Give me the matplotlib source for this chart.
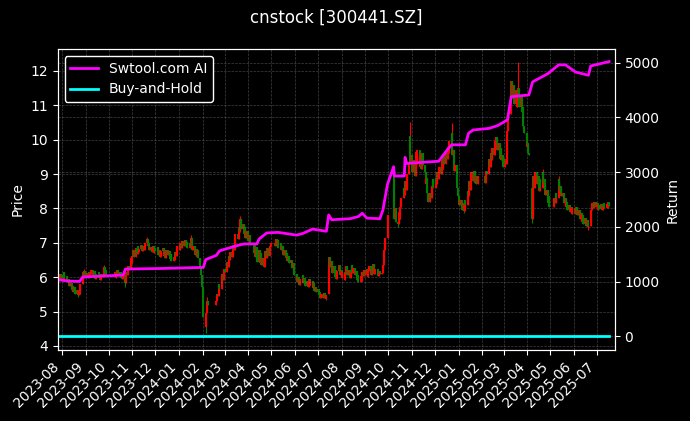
import numpy as np
import pandas as pd
import matplotlib
matplotlib.use("Agg")
import matplotlib.pyplot as plt
import matplotlib.dates as mdates

# ---------------- data ----------------
title = "cnstock [300441.SZ]"

holidays = pd.to_datetime([
    "2023-09-29", "2023-10-02", "2023-10-03", "2023-10-04", "2023-10-05", "2023-10-06",
    "2024-01-01", "2024-02-09", "2024-02-12", "2024-02-13", "2024-02-14", "2024-02-15",
    "2024-02-16", "2024-04-04", "2024-04-05", "2024-05-01", "2024-05-02", "2024-05-03",
    "2024-06-10", "2024-09-16", "2024-09-17", "2024-10-01", "2024-10-02", "2024-10-03",
    "2024-10-04", "2024-10-07", "2025-01-01", "2025-01-28", "2025-01-29", "2025-01-30",
    "2025-01-31", "2025-02-03", "2025-02-04", "2025-04-04", "2025-05-01", "2025-05-02",
    "2025-05-05", "2025-06-02",
])

# daily closes, one list per month (trading days in order)
c2023_07 = [5.92, 6.08, 5.95]
c2023_08 = [6.05, 5.92, 6.15, 5.98, 6.02, 5.85, 5.95, 5.75, 5.82, 5.62, 5.75, 5.58,
            5.70, 5.52, 5.62, 5.48, 5.60, 5.50, 5.80, 6.15, 5.98, 6.18, 6.02]
c2023_09 = [6.12, 5.98, 6.15, 6.00, 6.10, 6.20, 6.02, 6.18, 5.95, 6.08, 5.98, 6.15,
            6.00, 5.92, 6.08, 6.02, 6.30, 6.12, 6.22, 6.05]
c2023_10 = [6.15, 5.98, 6.12, 6.22, 6.05, 6.15, 5.98, 6.10, 5.95, 6.05, 5.82, 6.15,
            6.05, 6.32, 6.25, 6.55, 6.40]
c2023_11 = [6.62, 6.78, 6.60, 6.85, 6.68, 6.90, 6.72, 6.82, 6.95, 6.75, 6.92, 6.80,
            6.98, 7.12, 6.90, 6.98, 6.78, 6.88, 6.72, 6.90, 6.70, 6.85]
c2023_12 = [6.75, 6.88, 6.65, 6.80, 6.60, 6.75, 6.85, 6.62, 6.72, 6.55, 6.80, 6.65,
            6.75, 6.52, 6.68, 6.48, 6.60, 6.50, 6.72, 6.62, 6.90]
c2024_01 = [6.80, 7.00, 6.85, 7.05, 6.90, 7.08, 6.92, 7.02, 6.85, 7.00, 6.90, 7.15,
            6.80, 6.92, 6.65, 6.82, 6.60, 6.78, 6.55, 6.30, 6.05, 5.70]
c2024_02 = [5.35, 4.85, 4.55, 4.95, 5.30, 5.20, 5.30, 5.52, 5.45, 5.80, 5.65, 5.95,
            6.10, 5.92, 6.25]
c2024_03 = [6.15, 6.45, 6.30, 6.62, 6.50, 6.72, 6.60, 6.95, 6.78, 7.10, 7.25, 7.10,
            7.45, 7.30, 7.70, 7.40, 7.55, 7.25, 7.45, 7.15, 7.35]
c2024_04 = [7.05, 7.22, 6.95, 6.70, 6.95, 6.60, 6.88, 6.45, 6.78, 6.40, 6.70, 6.35,
            6.55, 6.30, 6.75, 6.55, 6.85, 6.62, 6.90, 7.00]
c2024_05 = [6.90, 7.12, 6.95, 7.08, 6.85, 6.98, 6.78, 6.92, 6.65, 6.80, 6.55, 6.70,
            6.48, 6.62, 6.40, 6.50, 6.28, 6.42, 6.20, 6.05]
c2024_06 = [6.08, 5.85, 6.00, 5.78, 5.95, 6.05, 5.82, 5.98, 5.75, 5.90, 5.72, 5.95,
            5.78, 5.88, 5.68, 5.82, 5.60, 5.72, 5.58]
c2024_07 = [5.65, 5.48, 5.58, 5.40, 5.52, 5.38, 5.55, 5.42, 5.36, 5.48, 6.25, 6.58,
            6.30, 6.48, 6.12, 6.32, 6.00, 6.22, 5.95, 6.18, 6.35, 6.05, 6.20]
c2024_08 = [5.98, 6.15, 5.92, 6.10, 6.32, 6.05, 6.22, 5.98, 6.15, 6.35, 6.12, 6.28,
            6.05, 6.18, 5.92, 6.05, 5.85, 6.02, 5.90, 6.15, 6.02, 6.22]
c2024_09 = [6.05, 6.25, 6.00, 6.18, 6.32, 6.05, 6.20, 6.38, 6.10, 6.25, 6.02, 6.18,
            6.08, 6.12, 6.35, 6.50, 6.80, 7.15, 7.80]
c2024_10 = [8.20, 7.70, 8.00, 7.60, 7.55, 7.90, 7.70, 8.05, 8.30, 8.60, 8.40, 8.80,
            8.55, 9.00, 9.35, 10.10, 9.30, 9.55]
c2024_11 = [9.05, 9.40, 8.95, 9.65, 9.30, 9.70, 9.20, 9.55, 9.15, 9.60, 9.25, 9.05,
            8.70, 8.90, 8.45, 8.20, 8.45, 8.30, 8.65, 8.85, 8.60]
c2024_12 = [8.90, 8.70, 9.05, 8.85, 9.20, 9.00, 9.40, 9.15, 9.55, 9.30, 9.65, 9.45,
            9.80, 9.60, 9.95, 10.20, 9.55, 9.70, 9.10, 9.25, 8.60, 8.35]
c2025_01 = [8.10, 8.25, 7.95, 8.15, 7.92, 8.25, 8.10, 8.50, 8.35, 8.80, 8.55, 9.05,
            8.80, 9.10, 8.75, 8.95, 8.70, 8.95]
c2025_02 = [8.75, 9.10, 9.00, 9.45, 9.20, 9.60, 9.40, 9.75, 9.55, 9.95, 10.08, 9.70,
            9.90, 9.45, 9.75, 9.40, 9.55, 9.20]
c2025_03 = [9.45, 9.30, 9.75, 10.25, 10.75, 11.30, 11.70, 11.20, 11.60, 11.05, 11.45,
            10.95, 11.35, 11.50, 10.95, 11.30, 10.80, 10.95, 10.40, 10.20, 9.80]
c2025_04 = [9.90, 9.60, 9.55, 7.70, 8.45, 8.95, 8.60, 9.05, 8.70, 8.95, 8.50, 8.85,
            8.60, 9.05, 8.70, 8.85, 8.40, 8.55, 8.15, 8.35, 8.05]
c2025_05 = [8.30, 8.15, 8.45, 8.30, 8.85, 8.50, 8.65, 8.35, 8.45, 8.15, 8.30, 8.05,
            8.20, 7.95, 8.10, 7.90, 8.05, 7.85, 8.00]
c2025_06 = [7.85, 8.05, 7.80, 7.95, 7.70, 7.88, 7.62, 7.80, 7.55, 7.72, 7.50, 7.65,
            7.45, 7.48, 7.70, 7.95, 8.15, 8.00, 8.20, 8.05]
c2025_07 = [8.15, 7.95, 8.10, 7.98, 8.12, 7.95, 8.08, 8.15, 8.00, 8.12, 8.02, 8.18, 8.08]

month_chunks = [
    ("2023-07-27", c2023_07), ("2023-08-01", c2023_08), ("2023-09-01", c2023_09),
    ("2023-10-01", c2023_10), ("2023-11-01", c2023_11), ("2023-12-01", c2023_12),
    ("2024-01-01", c2024_01), ("2024-02-01", c2024_02), ("2024-03-01", c2024_03),
    ("2024-04-01", c2024_04), ("2024-05-01", c2024_05), ("2024-06-01", c2024_06),
    ("2024-07-01", c2024_07), ("2024-08-01", c2024_08), ("2024-09-01", c2024_09),
    ("2024-10-01", c2024_10), ("2024-11-01", c2024_11), ("2024-12-01", c2024_12),
    ("2025-01-01", c2025_01), ("2025-02-01", c2025_02), ("2025-03-01", c2025_03),
    ("2025-04-01", c2025_04), ("2025-05-01", c2025_05), ("2025-06-01", c2025_06),
    ("2025-07-01", c2025_07),
]

# opens that gap away from the previous close
open_gaps = {"2024-07-15": 5.50, "2024-10-08": 9.10, "2025-04-07": 8.60}
# long shadows
wick_high = {"2023-08-30": 6.25, "2023-09-25": 6.36, "2023-11-20": 7.17,
             "2024-01-17": 7.22, "2024-02-07": 5.42, "2024-03-21": 7.78,
             "2024-10-08": 9.15, "2024-10-29": 10.52, "2024-12-23": 10.50,
             "2025-03-20": 12.27, "2025-04-21": 9.15, "2025-05-12": 8.95}
wick_low = {"2023-08-22": 5.43, "2023-10-23": 5.72, "2024-02-05": 4.38,
            "2024-07-11": 5.33, "2024-10-14": 7.45, "2025-01-08": 7.87,
            "2025-04-07": 7.58, "2025-06-20": 7.38}

# strategy equity curve (right axis), breakpoints
ai_dates = ["2023-07-27", "2023-08-10", "2023-08-24", "2023-08-28", "2023-09-19",
            "2023-10-20", "2023-10-23", "2023-12-07", "2024-02-02", "2024-02-05",
            "2024-02-08", "2024-02-19", "2024-02-23", "2024-02-27", "2024-03-08",
            "2024-03-21", "2024-03-27", "2024-04-12", "2024-04-15", "2024-04-25",
            "2024-05-10", "2024-06-03", "2024-06-11", "2024-06-24", "2024-07-12",
            "2024-07-15", "2024-07-19", "2024-08-12", "2024-08-23", "2024-08-28",
            "2024-09-03", "2024-09-20", "2024-09-24", "2024-09-30", "2024-10-08",
            "2024-10-09", "2024-10-22", "2024-10-23", "2024-10-25", "2024-12-06",
            "2024-12-13", "2024-12-18", "2024-12-23", "2025-01-10", "2025-01-14",
            "2025-01-20", "2025-02-10", "2025-02-21", "2025-03-03", "2025-03-06",
            "2025-03-11", "2025-04-03", "2025-04-08", "2025-04-28", "2025-05-12",
            "2025-05-21", "2025-06-03", "2025-06-20", "2025-06-23", "2025-07-17"]
ai_values = [1035, 1010, 1004, 1084, 1100,
             1120, 1230, 1240, 1260, 1400,
             1420, 1480, 1560, 1580, 1620,
             1673, 1690, 1690, 1780, 1890,
             1900, 1850, 1880, 1960, 1920,
             2220, 2130, 2150, 2190, 2250,
             2160, 2150, 2310, 2780, 3100,
             2930, 2930, 3270, 3160, 3200,
             3330, 3420, 3500, 3500, 3710,
             3770, 3800, 3850, 3930, 3960,
             4380, 4410, 4650, 4800, 4960,
             4960, 4830, 4770, 4940, 5020]

bh_dates = ["2023-07-27", "2025-07-17"]
bh_values = [0, 0]

# ---------------- build candle table ----------------
dates, closes = [], []
for start, vals in month_chunks:
    days = pd.bdate_range(start, pd.Timestamp(start) + pd.Timedelta(days=40))
    days = [d for d in days if d not in holidays]
    dates.extend(days[:len(vals)])
    closes.extend(vals)
df = pd.DataFrame({"close": closes}, index=pd.DatetimeIndex(dates))
df["open"] = df["close"].shift(1).fillna(df["close"].iloc[0])
for k, v in open_gaps.items():
    df.loc[pd.Timestamp(k), "open"] = v
df["high"] = df[["open", "close"]].max(axis=1)
df["low"] = df[["open", "close"]].min(axis=1)
for k, v in wick_high.items():
    df.loc[pd.Timestamp(k), "high"] = v
for k, v in wick_low.items():
    df.loc[pd.Timestamp(k), "low"] = v

# ---------------- plot ----------------
plt.style.use("dark_background")
fig = plt.figure(figsize=(6.9, 4.21), dpi=100)
ax = fig.add_axes([0.0835, 0.1686, 0.891 - 0.0835, 0.8836 - 0.1686])
ax2 = ax.twinx()

x = mdates.date2num(df.index.to_pydatetime())
up = df["close"].values >= df["open"].values
cols = np.where(up, "red", "green")
ax.vlines(x, df["low"].values, df["high"].values, colors=cols, linewidth=0.8)
ax.vlines(x, df["open"].values, df["close"].values, colors=cols, linewidth=1.5)

ax2.plot(pd.to_datetime(ai_dates), ai_values, color="magenta", linewidth=2,
         label="Swtool.com AI")
ax2.plot(pd.to_datetime(bh_dates), bh_values, color="cyan", linewidth=2,
         label="Buy-and-Hold")

ax.set_xlim(mdates.date2num(pd.Timestamp("2023-07-26 05:00")),
            mdates.date2num(pd.Timestamp("2025-07-24 12:00")))
ax.set_ylim(3.88, 12.64)
ax2.set_ylim(-249, 5250)

ax.xaxis.set_major_locator(mdates.MonthLocator())
ax.xaxis.set_major_formatter(mdates.DateFormatter("%Y-%m"))
for lab in ax.get_xticklabels():
    lab.set_rotation(45)
    lab.set_ha("right")
ax.set_yticks(range(4, 13))
ax2.set_yticks(range(0, 5001, 1000))

ax.grid(True, color="gray", linestyle="--", linewidth=0.5, alpha=0.5)
ax2.grid(True, color="gray", linestyle="--", linewidth=0.5, alpha=0.5)

ax.set_ylabel("Price")
ax2.set_ylabel("Return")

leg = ax2.legend(loc="upper left", facecolor="black", edgecolor="white", framealpha=1.0)

ax.set_title(title, fontsize=12, pad=19)

fig.savefig("out.png", dpi=100, facecolor="black")
